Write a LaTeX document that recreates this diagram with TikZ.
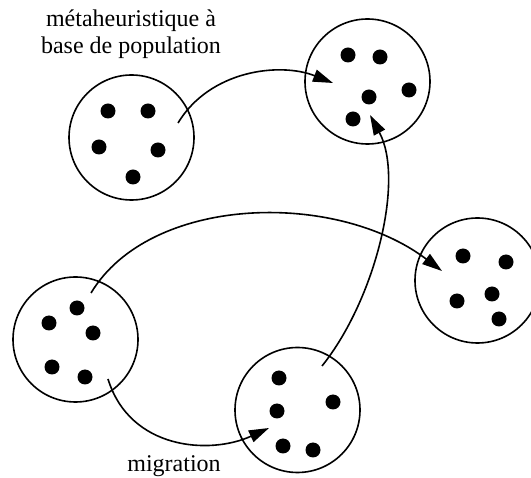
\documentclass[tikz,border=0pt]{standalone}
\usepackage{fontspec}
\setmainfont{Liberation Serif}
\usetikzlibrary{arrows.meta}
\begin{document}
\begin{tikzpicture}[x=1pt,y=-1pt,
  pop/.style={circle,draw,line width=1.6pt,minimum size=125pt,inner sep=0pt},
  ind/.style={circle,fill=black,minimum size=15pt,inner sep=0pt},
  mig/.style={line width=1.6pt,-{Triangle[length=20pt,width=12.5pt]}},
  lbl/.style={font=\fontsize{24}{27.5}\selectfont,align=center}]
\useasboundingbox (0,0) rectangle (531,478);
% populations
\node[pop] (A) at (131.5,137.5) {};
\node[pop] (B) at (367.5,81.5) {};
\node[pop] (C) at (75.5,339.5) {};
\node[pop] (D) at (477.5,280.5) {};
\node[pop] (E) at (297.5,410) {};
% individuals A
\foreach \p [count=\i] in {(108,111),(148,111),(99,147),(158,150),(133,177)}
  \node[ind] (a\i) at \p {};
% B
\foreach \p [count=\i] in {(348,55),(380,57),(409,90),(369,97),(353,119)}
  \node[ind] (b\i) at \p {};
% C
\foreach \p [count=\i] in {(77,308),(49,323),(93,333),(52,367),(85,377)}
  \node[ind] (c\i) at \p {};
% D
\foreach \p [count=\i] in {(463,256),(506,262),(457,301),(492,294),(499,319)}
  \node[ind] (d\i) at \p {};
% E
\foreach \p [count=\i] in {(279,378),(333,402),(277,411),(283,446),(313,450)}
  \node[ind] (e\i) at \p {};
% connector end points
\coordinate (As) at (178,123);
\coordinate (Bt1) at (333,83);
\coordinate (Es) at (322,366);
\coordinate (Bt2) at (370,115);
\coordinate (Cs1) at (91,293);
\coordinate (Dt) at (442,271);
\coordinate (Cs2) at (108,379);
\coordinate (Et) at (269,428);
% migrations
\draw[mig] (As) .. controls (210,70) and (280,62) .. (Bt1);
\draw[mig] (Es) .. controls (375,300) and (405,180) .. (Bt2);
\draw[mig] (Cs1) .. controls (150,195) and (335,190) .. (Dt);
\draw[mig] (Cs2) .. controls (130,450) and (210,455) .. (Et);
% labels
\node[lbl] (t1) at (131,34) {métaheuristique à\\base de population};
\node[lbl] (t2) at (174,466) {migration};
\end{tikzpicture}
\end{document}
